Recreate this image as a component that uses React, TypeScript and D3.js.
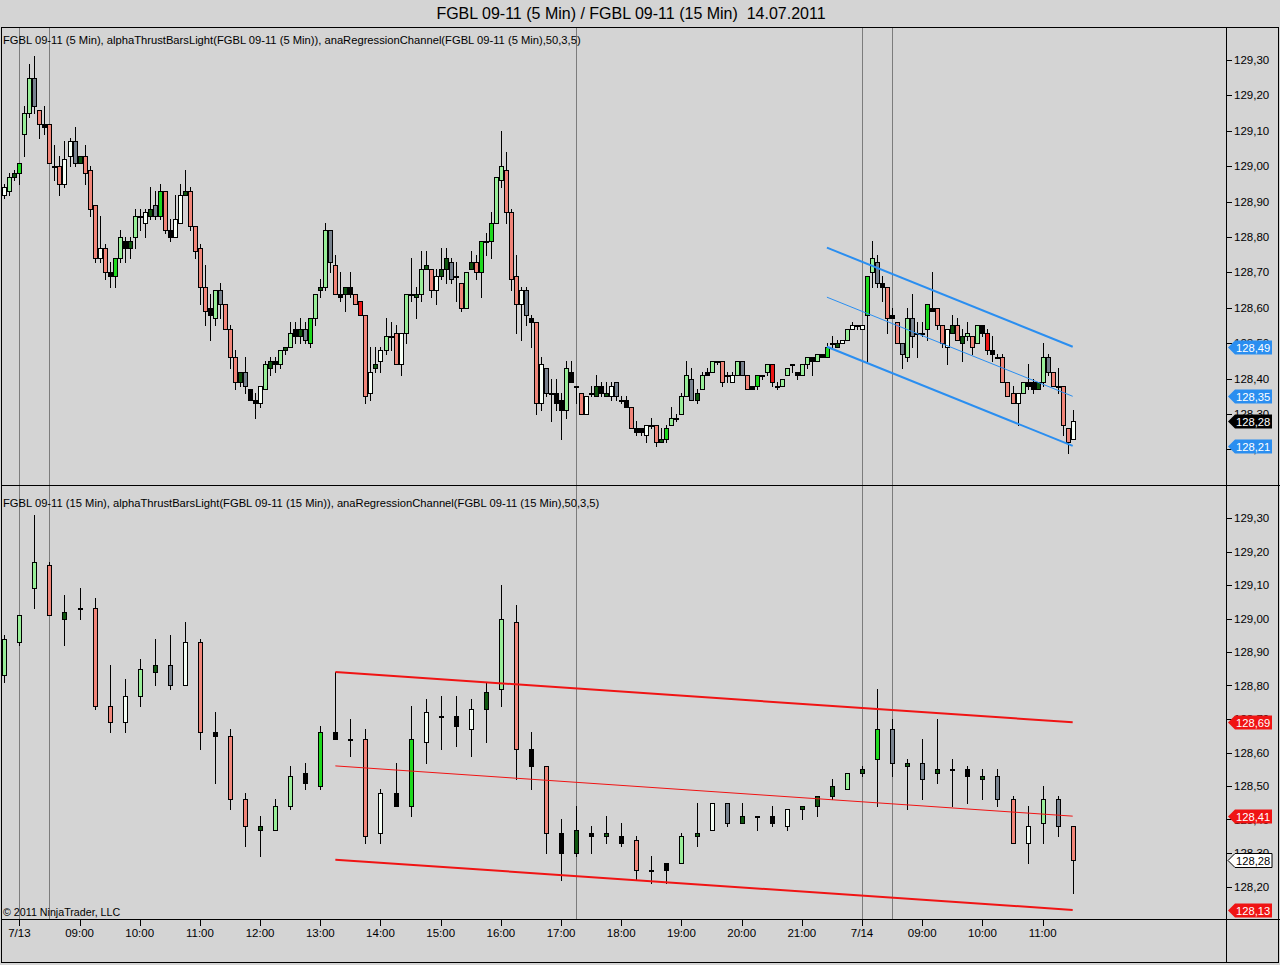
import React from "react";
import * as d3 from "d3";

// 5 minute bars: [open, high, low, close]
const bars5: number[][] = [
  [128.92, 128.95, 128.91, 128.94], [128.93, 128.98, 128.92, 128.97], [128.97, 128.99, 128.96, 128.98], [128.98, 129.01, 128.95, 129.01], [129.09, 129.17, 129.03, 129.15],
  [129.15, 129.29, 129.14, 129.25], [129.25, 129.31, 129.15, 129.17], [129.16, 129.16, 129.08, 129.12], [129.12, 129.17, 129.09, 129.11], [129.12, 129.12, 129.01, 129.01],
  [129.00, 129.06, 128.96, 129.00], [129.00, 129.03, 128.92, 128.95], [128.95, 129.07, 128.94, 129.02], [129.03, 129.08, 129.00, 129.07], [129.07, 129.11, 129.00, 129.01],
  [129.01, 129.03, 129.01, 129.03], [129.03, 129.06, 128.95, 128.98], [128.99, 129.00, 128.86, 128.88], [128.89, 128.89, 128.73, 128.74], [128.74, 128.86, 128.73, 128.77],
  [128.77, 128.78, 128.68, 128.70], [128.70, 128.73, 128.66, 128.69], [128.69, 128.74, 128.66, 128.74], [128.74, 128.82, 128.73, 128.80], [128.79, 128.80, 128.73, 128.77],
  [128.77, 128.80, 128.74, 128.79], [128.80, 128.88, 128.77, 128.86], [128.86, 128.88, 128.82, 128.86], [128.84, 128.88, 128.80, 128.87], [128.86, 128.94, 128.85, 128.88],
  [128.89, 128.93, 128.85, 128.86], [128.86, 128.95, 128.85, 128.93], [128.93, 128.93, 128.81, 128.82], [128.82, 128.85, 128.79, 128.80], [128.80, 128.92, 128.80, 128.85],
  [128.84, 128.95, 128.84, 128.92], [128.92, 128.99, 128.92, 128.93], [128.93, 128.94, 128.82, 128.83], [128.83, 128.83, 128.74, 128.76], [128.77, 128.78, 128.61, 128.66],
  [128.66, 128.72, 128.55, 128.59], [128.60, 128.64, 128.51, 128.58], [128.57, 128.65, 128.55, 128.65], [128.65, 128.67, 128.57, 128.61], [128.61, 128.61, 128.54, 128.54],
  [128.54, 128.55, 128.43, 128.46], [128.46, 128.48, 128.37, 128.39], [128.39, 128.42, 128.38, 128.42], [128.42, 128.46, 128.36, 128.38], [128.37, 128.37, 128.34, 128.34],
  [128.34, 128.36, 128.29, 128.33], [128.33, 128.38, 128.32, 128.38], [128.37, 128.45, 128.37, 128.44], [128.43, 128.46, 128.41, 128.45], [128.45, 128.46, 128.42, 128.44],
  [128.44, 128.48, 128.43, 128.48], [128.48, 128.49, 128.47, 128.49], [128.49, 128.56, 128.49, 128.53], [128.54, 128.56, 128.50, 128.52], [128.52, 128.57, 128.50, 128.54],
  [128.54, 128.56, 128.50, 128.51], [128.50, 128.57, 128.49, 128.57], [128.57, 128.64, 128.55, 128.64], [128.65, 128.68, 128.63, 128.66], [128.66, 128.84, 128.65, 128.82],
  [128.82, 128.82, 128.70, 128.73], [128.72, 128.75, 128.64, 128.64], [128.64, 128.70, 128.62, 128.63], [128.64, 128.66, 128.59, 128.66], [128.66, 128.70, 128.63, 128.64],
  [128.64, 128.64, 128.61, 128.61], [128.62, 128.62, 128.58, 128.58], [128.58, 128.58, 128.33, 128.35], [128.36, 128.49, 128.34, 128.42], [128.43, 128.49, 128.42, 128.44],
  [128.45, 128.49, 128.42, 128.48], [128.48, 128.57, 128.47, 128.52], [128.52, 128.56, 128.48, 128.52], [128.53, 128.55, 128.44, 128.44], [128.44, 128.53, 128.41, 128.53],
  [128.53, 128.64, 128.50, 128.64], [128.64, 128.74, 128.62, 128.64], [128.63, 128.66, 128.57, 128.64], [128.64, 128.76, 128.62, 128.71], [128.71, 128.76, 128.71, 128.72],
  [128.71, 128.71, 128.63, 128.65], [128.65, 128.71, 128.61, 128.69], [128.69, 128.77, 128.68, 128.71], [128.71, 128.77, 128.67, 128.74], [128.73, 128.74, 128.67, 128.68],
  [128.69, 128.73, 128.62, 128.69], [128.67, 128.67, 128.59, 128.60], [128.60, 128.70, 128.60, 128.70], [128.71, 128.76, 128.71, 128.73], [128.73, 128.75, 128.68, 128.70],
  [128.70, 128.79, 128.63, 128.79], [128.79, 128.81, 128.75, 128.79], [128.79, 128.87, 128.74, 128.84], [128.84, 128.97, 128.84, 128.97], [128.96, 129.10, 128.94, 129.00],
  [128.99, 129.04, 128.84, 128.87], [128.87, 128.88, 128.65, 128.68], [128.69, 128.75, 128.53, 128.61], [128.61, 128.66, 128.51, 128.65], [128.65, 128.66, 128.55, 128.58],
  [128.57, 128.58, 128.49, 128.56], [128.56, 128.56, 128.30, 128.33], [128.33, 128.46, 128.31, 128.44], [128.43, 128.43, 128.35, 128.36], [128.36, 128.40, 128.28, 128.36],
  [128.36, 128.40, 128.31, 128.33], [128.34, 128.36, 128.23, 128.31], [128.31, 128.45, 128.29, 128.43], [128.42, 128.45, 128.39, 128.39], [128.38, 128.38, 128.33, 128.38],
  [128.36, 128.36, 128.30, 128.30], [128.30, 128.35, 128.30, 128.35], [128.36, 128.38, 128.35, 128.36], [128.35, 128.41, 128.35, 128.38], [128.38, 128.39, 128.35, 128.36],
  [128.35, 128.39, 128.35, 128.36], [128.35, 128.39, 128.34, 128.38], [128.39, 128.39, 128.34, 128.35], [128.34, 128.35, 128.33, 128.34], [128.34, 128.35, 128.32, 128.32],
  [128.32, 128.32, 128.26, 128.26], [128.26, 128.28, 128.24, 128.25], [128.26, 128.26, 128.24, 128.25], [128.24, 128.27, 128.22, 128.27], [128.27, 128.29, 128.26, 128.27],
  [128.27, 128.27, 128.21, 128.22], [128.22, 128.26, 128.22, 128.23], [128.23, 128.27, 128.22, 128.26], [128.27, 128.32, 128.27, 128.29], [128.29, 128.30, 128.28, 128.29],
  [128.30, 128.36, 128.30, 128.35], [128.35, 128.45, 128.35, 128.41], [128.40, 128.43, 128.34, 128.34], [128.34, 128.37, 128.33, 128.36], [128.37, 128.42, 128.37, 128.41],
  [128.42, 128.43, 128.41, 128.41], [128.42, 128.45, 128.42, 128.45], [128.45, 128.45, 128.44, 128.45], [128.45, 128.45, 128.38, 128.39], [128.41, 128.42, 128.39, 128.41],
  [128.39, 128.42, 128.39, 128.41], [128.41, 128.45, 128.41, 128.45], [128.45, 128.45, 128.41, 128.41], [128.41, 128.41, 128.37, 128.37], [128.38, 128.38, 128.37, 128.37],
  [128.38, 128.41, 128.37, 128.41], [128.41, 128.41, 128.40, 128.41], [128.42, 128.44, 128.41, 128.44], [128.44, 128.44, 128.38, 128.39], [128.38, 128.39, 128.37, 128.38],
  [128.38, 128.40, 128.38, 128.40], [128.41, 128.43, 128.41, 128.43], [128.44, 128.44, 128.42, 128.44], [128.42, 128.42, 128.40, 128.41], [128.41, 128.44, 128.41, 128.44],
  [128.44, 128.46, 128.43, 128.46], [128.46, 128.46, 128.41, 128.45], [128.45, 128.47, 128.45, 128.47], [128.47, 128.47, 128.46, 128.46], [128.46, 128.50, 128.46, 128.49],
  [128.50, 128.52, 128.49, 128.50], [128.49, 128.51, 128.49, 128.50], [128.50, 128.51, 128.50, 128.51], [128.51, 128.54, 128.51, 128.54], [128.54, 128.56, 128.54, 128.55],
  [128.55, 128.55, 128.54, 128.55], [128.54, 128.55, 128.54, 128.55], [128.58, 128.69, 128.45, 128.69], [128.70, 128.79, 128.66, 128.74], [128.73, 128.75, 128.66, 128.67],
  [128.67, 128.69, 128.62, 128.66], [128.66, 128.66, 128.53, 128.57], [128.58, 128.60, 128.57, 128.57], [128.56, 128.56, 128.50, 128.50], [128.50, 128.50, 128.43, 128.47],
  [128.46, 128.60, 128.45, 128.57], [128.57, 128.64, 128.49, 128.52], [128.53, 128.56, 128.46, 128.53], [128.53, 128.56, 128.52, 128.53], [128.54, 128.61, 128.51, 128.61],
  [128.60, 128.70, 128.59, 128.59], [128.60, 128.60, 128.54, 128.55], [128.55, 128.55, 128.49, 128.50], [128.49, 128.54, 128.44, 128.54], [128.53, 128.58, 128.53, 128.55],
  [128.55, 128.57, 128.51, 128.51], [128.50, 128.54, 128.45, 128.52], [128.52, 128.56, 128.51, 128.53], [128.52, 128.52, 128.47, 128.49], [128.50, 128.55, 128.50, 128.55],
  [128.55, 128.55, 128.52, 128.53], [128.53, 128.54, 128.47, 128.48], [128.48, 128.52, 128.45, 128.47], [128.46, 128.47, 128.46, 128.46], [128.46, 128.47, 128.39, 128.39],
  [128.39, 128.39, 128.35, 128.35], [128.36, 128.38, 128.33, 128.33], [128.33, 128.36, 128.27, 128.36], [128.36, 128.39, 128.36, 128.39], [128.39, 128.44, 128.37, 128.38],
  [128.39, 128.40, 128.36, 128.37], [128.37, 128.39, 128.37, 128.39], [128.39, 128.50, 128.38, 128.46], [128.46, 128.47, 128.41, 128.42], [128.42, 128.42, 128.38, 128.38],
  [128.38, 128.43, 128.36, 128.38], [128.38, 128.38, 128.24, 128.27], [128.26, 128.26, 128.19, 128.22], [128.23, 128.31, 128.23, 128.28],
];
// alphaThrust bar colour per 5 minute bar
const tone5 =
  "wldgllsrkr" + "krwwsdrrrw" + "rkglkdlkwd" + "sgrkwwdrrr" + "rklsrrrdsk" +
  "kwldkldlkd" + "sgldlsrkdk" + "rRrwdwlkrw" + "lkdldrwdds" + "krldrgkgll" +
  "rrrwskrwsk" + "kklkkrwkdk" + "dwskkrkkwk" + "rdglkllsdl" + "klkrkwlsrk" +
  "gklRkllkkl" + "lklkgkdwlw" + "kwglskrkrs" + "lskkgkrrwd" + "rdlrlkRkkr" +
  "rrwlkkdlsr" + "krrw";

// 15 minute bars: [open, high, low, close]
const bars15: number[][] = [
  [128.83, 128.95, 128.81, 128.94], [128.93, 129.01, 128.92, 129.01], [129.09, 129.31, 129.03, 129.17], [129.16, 129.17, 129.01, 129.01], [129.00, 129.07, 128.92, 129.02],
  [129.03, 129.09, 129.00, 129.03], [129.03, 129.06, 128.73, 128.74], [128.74, 128.86, 128.66, 128.69], [128.69, 128.82, 128.66, 128.77], [128.77, 128.88, 128.74, 128.85],
  [128.84, 128.94, 128.80, 128.86], [128.86, 128.95, 128.79, 128.80], [128.80, 128.99, 128.80, 128.93], [128.93, 128.94, 128.61, 128.66], [128.66, 128.72, 128.51, 128.65],
  [128.65, 128.67, 128.43, 128.46], [128.46, 128.48, 128.32, 128.38], [128.37, 128.41, 128.29, 128.38], [128.37, 128.46, 128.37, 128.44], [128.44, 128.56, 128.43, 128.53],
  [128.54, 128.57, 128.49, 128.51], [128.50, 128.68, 128.49, 128.66], [128.66, 128.84, 128.64, 128.64], [128.64, 128.70, 128.59, 128.64], [128.64, 128.67, 128.33, 128.35],
  [128.36, 128.49, 128.33, 128.48], [128.48, 128.57, 128.44, 128.44], [128.44, 128.74, 128.41, 128.64], [128.63, 128.76, 128.57, 128.72], [128.71, 128.77, 128.61, 128.71],
  [128.71, 128.77, 128.62, 128.68], [128.67, 128.76, 128.59, 128.73], [128.73, 128.81, 128.63, 128.78], [128.79, 129.10, 128.74, 129.00], [128.99, 129.04, 128.52, 128.61],
  [128.61, 128.66, 128.49, 128.56], [128.56, 128.56, 128.30, 128.36], [128.36, 128.40, 128.22, 128.30], [128.30, 128.44, 128.29, 128.37], [128.36, 128.38, 128.30, 128.35],
  [128.35, 128.41, 128.33, 128.36], [128.35, 128.39, 128.32, 128.33], [128.34, 128.35, 128.22, 128.25], [128.25, 128.29, 128.21, 128.25], [128.27, 128.27, 128.21, 128.25],
  [128.27, 128.36, 128.27, 128.35], [128.35, 128.45, 128.32, 128.36], [128.37, 128.45, 128.37, 128.45], [128.45, 128.45, 128.38, 128.39], [128.39, 128.45, 128.39, 128.41],
  [128.41, 128.41, 128.37, 128.41], [128.41, 128.44, 128.38, 128.39], [128.38, 128.43, 128.37, 128.43], [128.43, 128.44, 128.40, 128.44], [128.44, 128.47, 128.41, 128.47],
  [128.47, 128.52, 128.46, 128.50], [128.49, 128.54, 128.49, 128.54], [128.54, 128.56, 128.53, 128.55], [128.58, 128.79, 128.44, 128.67], [128.67, 128.70, 128.53, 128.57],
  [128.56, 128.58, 128.43, 128.57], [128.57, 128.64, 128.46, 128.52], [128.54, 128.70, 128.51, 128.55], [128.55, 128.58, 128.44, 128.55], [128.55, 128.56, 128.45, 128.53],
  [128.52, 128.55, 128.46, 128.53], [128.53, 128.55, 128.44, 128.46], [128.46, 128.47, 128.33, 128.33], [128.33, 128.44, 128.27, 128.38], [128.39, 128.50, 128.33, 128.46],
  [128.46, 128.47, 128.35, 128.38], [128.38, 128.38, 128.18, 128.28],
];
const tone15 =
  "lllrdkrrwl" + "dswrkrrdll" + "kgkkrwkgwk" + "kwdlrkrkdk" + "dkrkkldwsd" +
  "kkwdddldgs" + "dsdkkdsrwl" + "sr";

// time axis (positions are in 5 minute bar slots)
const timeLabels = ["7/13", "09:00", "10:00", "11:00", "12:00", "13:00", "14:00", "15:00", "16:00", "17:00", "18:00", "19:00", "20:00", "21:00", "7/14", "09:00", "10:00", "11:00"];
const timeSlots = [3, 15, 27, 39, 51, 63, 75, 87, 99, 111, 123, 135, 147, 159, 171, 183, 195, 207];
const markerSlots = [3, 9, 114, 171, 177];

// regression channels: slot range, centre line start/end, half width
const chan5Slots = [164, 213];
const chan5Mid = [128.63, 128.35];
const chan5Dev = 0.14;
const chan15Slots = [66, 213];
const chan15Mid = [128.56, 128.41];
const chan15Dev = 0.28;

const priceDomain = [129.3, 128.2];

const toneFill: Record<string, string> = {
  w: "#f6fff6",
  l: "#98ee98",
  d: "#0e550e",
  g: "#1ed81e",
  r: "#f08478",
  R: "#ec1616",
  s: "#77818d",
  k: "#000000",
};

const FONT = "'Liberation Sans', Arial, sans-serif";
const W = 1280;
const H = 965;
const AXIS_X = 1226;

const x = d3.scaleLinear().domain([0, 213]).range([4.3, 1072.7]);
const yTop = d3.scaleLinear().domain(priceDomain).range([60, 449.4]);
const yBot = d3.scaleLinear().domain(priceDomain).range([518, 886.5]);
const fmt = (v: number) => d3.format(".2f")(v).replace(".", ",");
const px = (v: number) => Math.round(v) + 0.5;

function Candles({ bars, tones, step, y }: { bars: number[][]; tones: string; step: number; y: d3.ScaleLinear<number, number> }) {
  return (
    <g>
      {bars.map(([o, h, l, c], i) => {
        const cx = Math.round(x(i * step));
        const top = Math.round(y(Math.max(o, c)));
        const bot = Math.round(y(Math.min(o, c)));
        return (
          <g key={i}>
            <line x1={cx + 0.5} x2={cx + 0.5} y1={Math.round(y(h))} y2={Math.round(y(l)) + 1} stroke="#000" strokeWidth={1} />
            <rect x={cx - 1.5} y={top + 0.5} width={4} height={Math.max(bot - top, 1)} fill={toneFill[tones[i]]} stroke="#000" strokeWidth={1} />
          </g>
        );
      })}
    </g>
  );
}

function Channel({ slots, mid, dev, y, color }: { slots: number[]; mid: number[]; dev: number; y: d3.ScaleLinear<number, number>; color: string }) {
  const line = d3.line<[number, number]>().x((d) => x(d[0])).y((d) => y(d[1]));
  const offsets = [dev, 0, -dev];
  return (
    <g>
      {offsets.map((off, k) => (
        <path
          key={k}
          d={line([[slots[0], mid[0] + off], [slots[1], mid[1] + off]]) || ""}
          stroke={color}
          strokeWidth={off === 0 ? 1 : 2}
          fill="none"
        />
      ))}
    </g>
  );
}

function Tag({ value, y, fill, text, border }: { value: number; y: d3.ScaleLinear<number, number>; fill: string; text: string; border?: string }) {
  const cy = Math.round(y(value)) + 0.5;
  const x0 = AXIS_X + 2;
  const pts = [[x0, cy], [x0 + 7, cy - 7], [x0 + 44, cy - 7], [x0 + 44, cy + 7], [x0 + 7, cy + 7]].map((p) => p.join(",")).join(" ");
  return (
    <g>
      <polygon points={pts} fill={fill} stroke={border || "none"} strokeWidth={1} />
      <text x={x0 + 8} y={cy + 4} fontSize={11.2} fontFamily={FONT} fill={text}>
        {fmt(value)}
      </text>
    </g>
  );
}

function PriceAxis({ y }: { y: d3.ScaleLinear<number, number> }) {
  return (
    <g>
      {y.ticks(12).map((t) => (
        <g key={t}>
          <line x1={AXIS_X} x2={AXIS_X + 6} y1={px(y(t))} y2={px(y(t))} stroke="#000" />
          <text x={AXIS_X + 8} y={y(t) + 4} fontSize={11.5} fontFamily={FONT} fill="#000">
            {fmt(t)}
          </text>
        </g>
      ))}
    </g>
  );
}

export default function App() {
  const last5 = bars5[bars5.length - 1][3];
  const last15 = bars15[bars15.length - 1][3];
  return (
    <svg width={W} height={H} style={{ position: "absolute", left: 0, top: 0, background: "#d4d4d4" }}>
      <rect x={0} y={0} width={W} height={H} fill="#d4d4d4" />
      <text x={631} y={19} textAnchor="middle" fontSize={16} fontFamily={FONT} style={{ whiteSpace: "pre" }}>
        {"FGBL 09-11 (5 Min) / FGBL 09-11 (15 Min)  14.07.2011"}
      </text>

      {/* session markers */}
      {markerSlots.map((s) => (
        <line key={s} x1={px(x(s))} x2={px(x(s))} y1={28} y2={919} stroke="#7c7c7c" strokeWidth={1} />
      ))}

      <Candles bars={bars5} tones={tone5} step={1} y={yTop} />
      <Candles bars={bars15} tones={tone15} step={3} y={yBot} />

      <Channel slots={chan5Slots} mid={chan5Mid} dev={chan5Dev} y={yTop} color="#2a8ef0" />
      <Channel slots={chan15Slots} mid={chan15Mid} dev={chan15Dev} y={yBot} color="#f01414" />

      {/* frame and separators */}
      <rect x={1.5} y={27.5} width={1277} height={935} fill="none" stroke="#000" />
      <line x1={1} x2={W} y1={485.5} y2={485.5} stroke="#000" />
      <line x1={1} x2={W} y1={919.5} y2={919.5} stroke="#000" />
      <line x1={AXIS_X + 0.5} x2={AXIS_X + 0.5} y1={27} y2={963} stroke="#000" />

      <text x={3} y={44} fontSize={11.2} fontFamily={FONT}>
        FGBL 09-11 (5 Min), alphaThrustBarsLight(FGBL 09-11 (5 Min)), anaRegressionChannel(FGBL 09-11 (5 Min),50,3,5)
      </text>
      <text x={3} y={507} fontSize={11.2} fontFamily={FONT}>
        FGBL 09-11 (15 Min), alphaThrustBarsLight(FGBL 09-11 (15 Min)), anaRegressionChannel(FGBL 09-11 (15 Min),50,3,5)
      </text>
      <text x={3} y={916} fontSize={10.7} fontFamily={FONT}>
        © 2011 NinjaTrader, LLC
      </text>

      <PriceAxis y={yTop} />
      <PriceAxis y={yBot} />

      <Tag value={chan5Mid[1] + chan5Dev} y={yTop} fill="#2a8ef0" text="#fff" />
      <Tag value={chan5Mid[1]} y={yTop} fill="#2a8ef0" text="#fff" />
      <Tag value={last5} y={yTop} fill="#000" text="#fff" />
      <Tag value={chan5Mid[1] - chan5Dev} y={yTop} fill="#2a8ef0" text="#fff" />

      <Tag value={chan15Mid[1] + chan15Dev} y={yBot} fill="#f01414" text="#fff" />
      <Tag value={chan15Mid[1]} y={yBot} fill="#f01414" text="#fff" />
      <Tag value={last15} y={yBot} fill="#fff" text="#000" border="#000" />
      <Tag value={chan15Mid[1] - chan15Dev} y={yBot} fill="#f01414" text="#fff" />

      {/* time axis */}
      {timeSlots.map((s, i) => (
        <g key={i}>
          <line x1={px(x(s))} x2={px(x(s))} y1={919} y2={926} stroke="#000" />
          <text x={x(s)} y={937} textAnchor="middle" fontSize={11.5} fontFamily={FONT}>
            {timeLabels[i]}
          </text>
        </g>
      ))}
    </svg>
  );
}
